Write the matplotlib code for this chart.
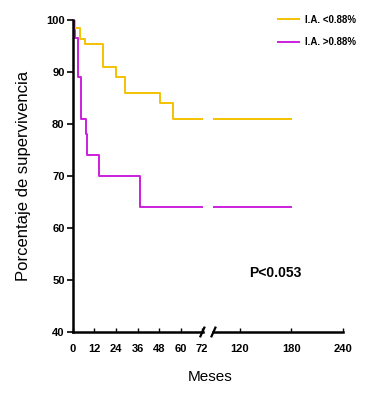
import numpy as np
import matplotlib
matplotlib.use("Agg")
import matplotlib.pyplot as plt

plt.rcParams['font.family'] = ['Liberation Sans', 'DejaVu Sans']

# curvas de supervivencia (meses, porcentaje)
t_low = [0, 1, 3.9, 6.7, 17, 24, 29, 48.6, 55.5, 180]
s_low = [100, 98.4, 96.3, 95.4, 91, 89, 86, 84, 81, 81]
t_high = [0, 0.5, 1, 3, 4.3, 7.3, 8, 14.7, 37.4, 180]
s_high = [100, 98, 96.5, 89, 81, 78, 74, 70, 64, 64]

labels = ['I.A. <0.88%', 'I.A. >0.88%']
colors = ['#F2C200', '#CC1FDD']

left_ticks = [0, 12, 24, 36, 48, 60, 72]
right_ticks = [120, 180, 240]
y_ticks = [40, 50, 60, 70, 80, 90, 100]

fig = plt.figure(figsize=(3.76, 3.99), dpi=100)
ax1 = fig.add_axes([0.194, 0.168, 0.346, 0.782])
ax2 = fig.add_axes([0.566, 0.168, 0.346, 0.782])

lines = []
for ax in (ax1, ax2):
    l1, = ax.step(t_low, s_low, where='post', color=colors[0], lw=1.4)
    l2, = ax.step(t_high, s_high, where='post', color=colors[1], lw=1.4)
    lines = [l1, l2]
    ax.set_ylim(40, 100)
    for s in ('top', 'right'):
        ax.spines[s].set_visible(False)
    ax.spines['bottom'].set_linewidth(1.8)
    ax.tick_params(axis='x', direction='in', length=3, width=1, pad=9)

ax1.set_xlim(0, 72.5)
ax1.set_xticks(left_ticks)
ax1.set_xticklabels([str(v) for v in left_ticks], fontweight='bold', fontsize=8)
ax1.spines['left'].set_linewidth(1.8)
ax1.set_yticks(y_ticks)
ax1.set_yticklabels([str(v) for v in y_ticks], fontweight='bold', fontsize=8)
ax1.tick_params(axis='y', direction='out', length=4, width=1.2, pad=2)
ax1.set_ylabel('Porcentaje de supervivencia', fontsize=12, labelpad=11)

ax2.set_xlim(88.5, 240)
ax2.set_xticks(right_ticks)
ax2.set_xticklabels([str(v) for v in right_ticks], fontweight='bold', fontsize=8)
ax2.spines['left'].set_visible(False)
ax2.set_yticks([])

# marcas de corte del eje
kw = dict(color='k', lw=1.6, clip_on=False)
ax1.plot([0.98, 1.01], [-0.014, 0.014], transform=ax1.transAxes, **kw)
ax2.plot([-0.01, 0.02], [-0.014, 0.014], transform=ax2.transAxes, **kw)

ax2.text(131, 50.5, 'P<0.053', fontsize=10, fontweight='bold')

fig.text(0.56, 0.045, 'Meses', fontsize=11, ha='center')

fig.legend(lines, labels, loc='upper left', bbox_to_anchor=(0.715, 0.985),
           frameon=False, handlelength=2.2, handletextpad=0.6,
           labelspacing=1.3, prop={'size': 7, 'weight': 'bold'})

fig.savefig('out.png', dpi=100)
